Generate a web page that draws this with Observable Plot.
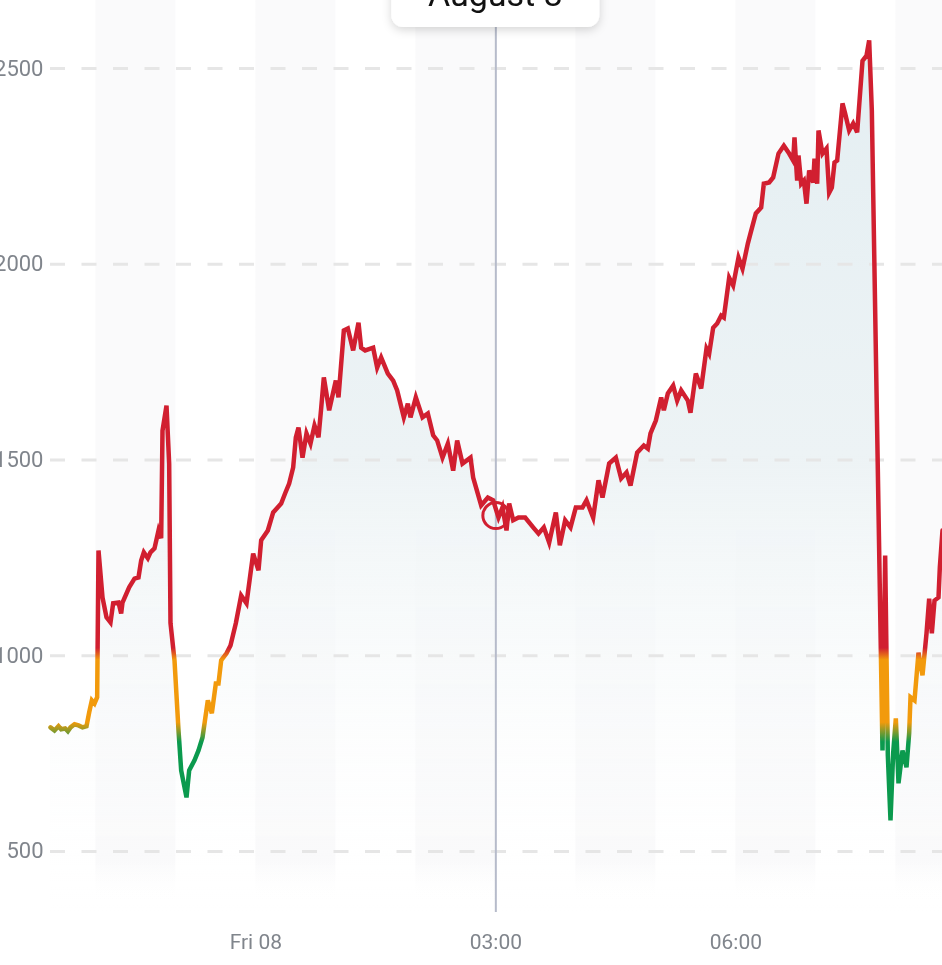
<!DOCTYPE html>
<html><head><meta charset="utf-8">
<script src="https://cdn.jsdelivr.net/npm/d3@7"></script>
<script src="https://cdn.jsdelivr.net/npm/@observablehq/plot@0.6"></script>
<style>body{margin:0;background:#fff;overflow:hidden} #chart svg{display:block}</style>
</head><body><div id="chart"></div>
<script>
// minutes relative to Fri 08 Aug 00:00
const minutes = [-154,-151,-148,-146,-143,-141,-139,-136,-133,-130,-127,-125,-123,-121,-119,-118,-115,-112,-109,-107,
-103,-101,-100,-95,-91,-88,-86,-84,-81,-79,-76,-73,-71,-70,-67,-65,-64,-61,-58,-56,
-52,-50,-46,-43,-40,-36,-33,-30,-28,-26,-22,-19,-15,-11,-7,-2,2,4,9,13,
19,22,25,28,30,32,35,38,41,44,47,49,51,55,60,62,66,69,73,77,
79,82,88,91,94,99,103,106,111,114,116,120,125,129,133,136,140,144,148,151,
155,161,163,169,174,178,182,185,188,190,193,197,202,208,212,216,220,225,228,232,
236,240,245,248,253,257,260,265,270,274,278,281,286,291,294,296,300,304,306,309,
313,316,319,324,326,330,334,338,340,343,346,349,351,355,358,362,365,369,371,375,
379,381,385,388,392,396,400,403,404,406,407,409,411,413,415,418,419,421,422,425,
428,430,432,434,436,440,442,445,448,451,455,458,460,462,470,472,474,476,478,480,
482,485,488,490,491,494,497,500,503,505,507,509,512,513,515];
const values = [817,809,820,812,814,807,817,825,822,817,820,855,886,878,894,1269,1149,1098,1085,1134,
1136,1108,1136,1175,1197,1200,1243,1264,1249,1264,1274,1320,1300,1575,1639,1491,1083,988,809,707,
638,707,733,758,791,886,853,929,929,988,1006,1026,1083,1154,1134,1261,1218,1295,1320,1366,
1389,1415,1440,1481,1558,1583,1506,1568,1542,1588,1558,1632,1711,1627,1703,1660,1831,1836,1780,1851,
1787,1780,1787,1736,1762,1721,1703,1678,1609,1644,1609,1660,1609,1619,1563,1550,1506,1542,1473,1550,
1491,1506,1455,1384,1404,1397,1353,1379,1320,1389,1346,1353,1353,1328,1312,1328,1289,1366,1282,1346,
1328,1379,1379,1397,1353,1448,1404,1491,1506,1453,1468,1435,1519,1537,1529,1568,1601,1660,1627,1670,
1690,1652,1678,1652,1621,1721,1683,1785,1772,1838,1849,1869,1864,1966,1946,2017,1989,2053,2079,2130,
2145,2206,2209,2222,2283,2303,2283,2265,2324,2214,2278,2206,2214,2155,2240,2209,2270,2206,2342,2283,
2296,2183,2196,2260,2265,2411,2385,2342,2360,2337,2520,2533,2572,2393,758,1256,745,579,751,840,
674,758,715,802,894,886,1008,950,1057,1146,1057,1141,1149,1226,1320];

const yTicks = [500, 1000, 1500, 2000, 2500];
const xTickMinutes = [0, 180, 360];
const xTickLabels = ["Fri 08", "03:00", "06:00"];
const bandStartMinutes = [-120, 0, 120, 240, 360, 480];
const focusMinute = 180;
const focusValue = 1358;
const focusLabel = "August 8";
const colorHigh = "#d11f30", colorMid = "#f29a0c", colorLow = "#0b9a4e";
const thresholds = [1020, 990, 830, 780];

const toDate = m => new Date(2025, 7, 8, 0, m);
const data = minutes.map((m, i) => ({date: toDate(m), value: values[i]}));
const bands = bandStartMinutes.map(m => ({x1: toDate(m), x2: toDate(m + 60)}));
const xTicks = xTickMinutes.map(toDate);
const labelOf = new Map(xTicks.map((d, i) => [+d, xTickLabels[i]]));
const focusDate = toDate(focusMinute);

const defsMark = (index, scales, vals, dims) => {
  const y = scales.y;
  const defs = d3.create("svg:defs");
  const lg = defs.append("linearGradient").attr("id", "lineGrad").attr("gradientUnits", "userSpaceOnUse")
    .attr("x1", 0).attr("x2", 0).attr("y1", y(thresholds[0])).attr("y2", y(thresholds[3]));
  const span = thresholds[0] - thresholds[3];
  [[0, colorHigh], [(thresholds[0]-thresholds[1])/span, colorMid], [(thresholds[0]-thresholds[2])/span, colorMid], [1, colorLow]]
    .forEach(([o, c]) => lg.append("stop").attr("offset", o).attr("stop-color", c));
  const ag = defs.append("linearGradient").attr("id", "areaGrad").attr("gradientUnits", "userSpaceOnUse")
    .attr("x1", 0).attr("x2", 0).attr("y1", 0).attr("y2", dims.height - dims.marginBottom);
  ag.append("stop").attr("offset", 0).attr("stop-color", "#e3eef2");
  ag.append("stop").attr("offset", 0.5).attr("stop-color", "#edf3f5");
  ag.append("stop").attr("offset", 1).attr("stop-color", "#ffffff").attr("stop-opacity", 0);
  const bg = defs.append("linearGradient").attr("id", "bandGrad").attr("x1", 0).attr("x2", 0).attr("y1", 0).attr("y2", 1);
  bg.append("stop").attr("offset", 0).attr("stop-color", "#fafafb");
  bg.append("stop").attr("offset", 0.945).attr("stop-color", "#fafafb");
  bg.append("stop").attr("offset", 0.99).attr("stop-color", "#ffffff").attr("stop-opacity", 0);
  const f = defs.append("filter").attr("id", "tipShadow").attr("x", "-20%").attr("y", "-30%").attr("width", "140%").attr("height", "180%");
  f.append("feDropShadow").attr("dx", 0).attr("dy", 3).attr("stdDeviation", 5).attr("flood-color", "#000").attr("flood-opacity", 0.16);
  return defs.node();
};

const tipMark = (index, scales) => {
  const cx = scales.x(focusDate);
  const g = d3.create("svg:g");
  g.append("rect").attr("x", cx - 104).attr("y", -45).attr("width", 208).attr("height", 72)
    .attr("rx", 12).attr("fill", "#fff").attr("filter", "url(#tipShadow)");
  g.append("text").attr("x", cx).attr("y", 6).attr("text-anchor", "middle")
    .attr("font-size", 34).attr("fill", "#111").attr("font-family", "Roboto").text(focusLabel);
  return g.node();
};

const chart = Plot.plot({
  width: 942, height: 965,
  marginLeft: 50, marginRight: 0, marginTop: 0, marginBottom: 53,
  x: {type: "time", domain: [data[0].date, data[data.length - 1].date]},
  y: {domain: [344, 2674]},
  style: {fontFamily: "Roboto", color: "#80858c", background: "#fff", overflow: "visible"},
  marks: [
    defsMark,
    Plot.rect(bands, {x1: "x1", x2: "x2", fill: "url(#bandGrad)", clip: true}),
    Plot.areaY(data, {x: "date", y: "value", fill: "url(#areaGrad)", clip: true, mixBlendMode: "multiply"}),
    Plot.ruleY(yTicks, {stroke: "#e6e6e6", strokeWidth: 3, strokeDasharray: "15,16.5"}),
    Plot.ruleX([focusDate], {stroke: "#b6bbca", strokeWidth: 2}),
    Plot.line(data, {x: "date", y: "value", stroke: "url(#lineGrad)", strokeWidth: 4.5, strokeLinejoin: "miter", strokeMiterlimit: 4}),
    Plot.dot([{date: focusDate, value: focusValue}], {x: "date", y: "value", r: 13, stroke: colorHigh, strokeWidth: 3, fill: "none"}),
    Plot.axisY(yTicks, {tickSize: 0, tickPadding: 7, fontSize: 22, label: null, tickFormat: d => String(d)}),
    Plot.axisX(xTicks, {tickSize: 0, tickPadding: 22, fontSize: 21, label: null, tickFormat: d => labelOf.get(+d)}),
    tipMark
  ]
});
document.getElementById("chart").append(chart);
</script>
</body></html>
